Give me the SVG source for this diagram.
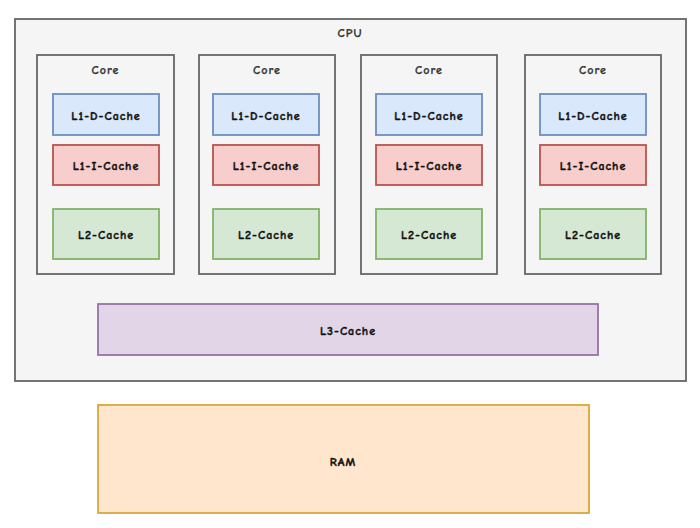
<svg xmlns="http://www.w3.org/2000/svg" width="700" height="528" viewBox="0 0 700 528">
<style>
text{font-family:"Comic Neue","DejaVu Sans","Liberation Sans",sans-serif;font-size:12px;font-weight:bold;letter-spacing:1px;fill:#111;stroke:#111;stroke-width:0.4;text-anchor:middle;dominant-baseline:central}
.t{fill:#333;stroke:#333;stroke-width:0.25}
rect{stroke-width:1.8}
.cpu{fill:#f5f5f5;stroke:#666}
.core{fill:#f5f5f5;stroke:#666}
.d{fill:#dae8fc;stroke:#6c8ebf}
.i{fill:#f8cecc;stroke:#b85450}
.l2{fill:#d5e8d4;stroke:#82b366}
.l3{fill:#e1d5e7;stroke:#9673a6}
.ram{fill:#ffe6cc;stroke:#d6a83a}
</style>
<rect width="700" height="528" fill="#fff" style="stroke:none"/>
<g id="cpu"><rect class="cpu" x="15" y="19" width="671" height="362"/><text class="t" x="350" y="33">CPU</text></g>
<g id="core1"><rect class="core" x="37" y="55" width="137" height="219"/><text class="t" x="105.5" y="70">Core</text></g>
<g id="core1-l1d"><rect class="d" x="53" y="94" width="106" height="41"/><text x="106" y="116">L1-D-Cache</text></g>
<g id="core1-l1i"><rect class="i" x="53" y="145" width="106" height="40"/><text x="106" y="166">L1-I-Cache</text></g>
<g id="core1-l2"><rect class="l2" x="53" y="209" width="106" height="50"/><text x="106" y="235">L2-Cache</text></g>
<g id="core2"><rect class="core" x="199" y="55" width="136" height="219"/><text class="t" x="267" y="70">Core</text></g>
<g id="core2-l1d"><rect class="d" x="213" y="94" width="106" height="41"/><text x="266" y="116">L1-D-Cache</text></g>
<g id="core2-l1i"><rect class="i" x="213" y="145" width="106" height="40"/><text x="266" y="166">L1-I-Cache</text></g>
<g id="core2-l2"><rect class="l2" x="213" y="209" width="106" height="50"/><text x="266" y="235">L2-Cache</text></g>
<g id="core3"><rect class="core" x="361" y="55" width="136" height="219"/><text class="t" x="429" y="70">Core</text></g>
<g id="core3-l1d"><rect class="d" x="376" y="94" width="106" height="41"/><text x="429" y="116">L1-D-Cache</text></g>
<g id="core3-l1i"><rect class="i" x="376" y="145" width="106" height="40"/><text x="429" y="166">L1-I-Cache</text></g>
<g id="core3-l2"><rect class="l2" x="376" y="209" width="106" height="50"/><text x="429" y="235">L2-Cache</text></g>
<g id="core4"><rect class="core" x="525" y="55" width="136" height="219"/><text class="t" x="593" y="70">Core</text></g>
<g id="core4-l1d"><rect class="d" x="540" y="94" width="106" height="41"/><text x="593" y="116">L1-D-Cache</text></g>
<g id="core4-l1i"><rect class="i" x="540" y="145" width="106" height="40"/><text x="593" y="166">L1-I-Cache</text></g>
<g id="core4-l2"><rect class="l2" x="540" y="209" width="106" height="50"/><text x="593" y="235">L2-Cache</text></g>
<g id="l3"><rect class="l3" x="98" y="304" width="500" height="51"/><text x="348" y="331">L3-Cache</text></g>
<g id="ram"><rect class="ram" x="98" y="405" width="491" height="108"/><text x="343" y="462">RAM</text></g>
<g id="connectors"></g>
</svg>
